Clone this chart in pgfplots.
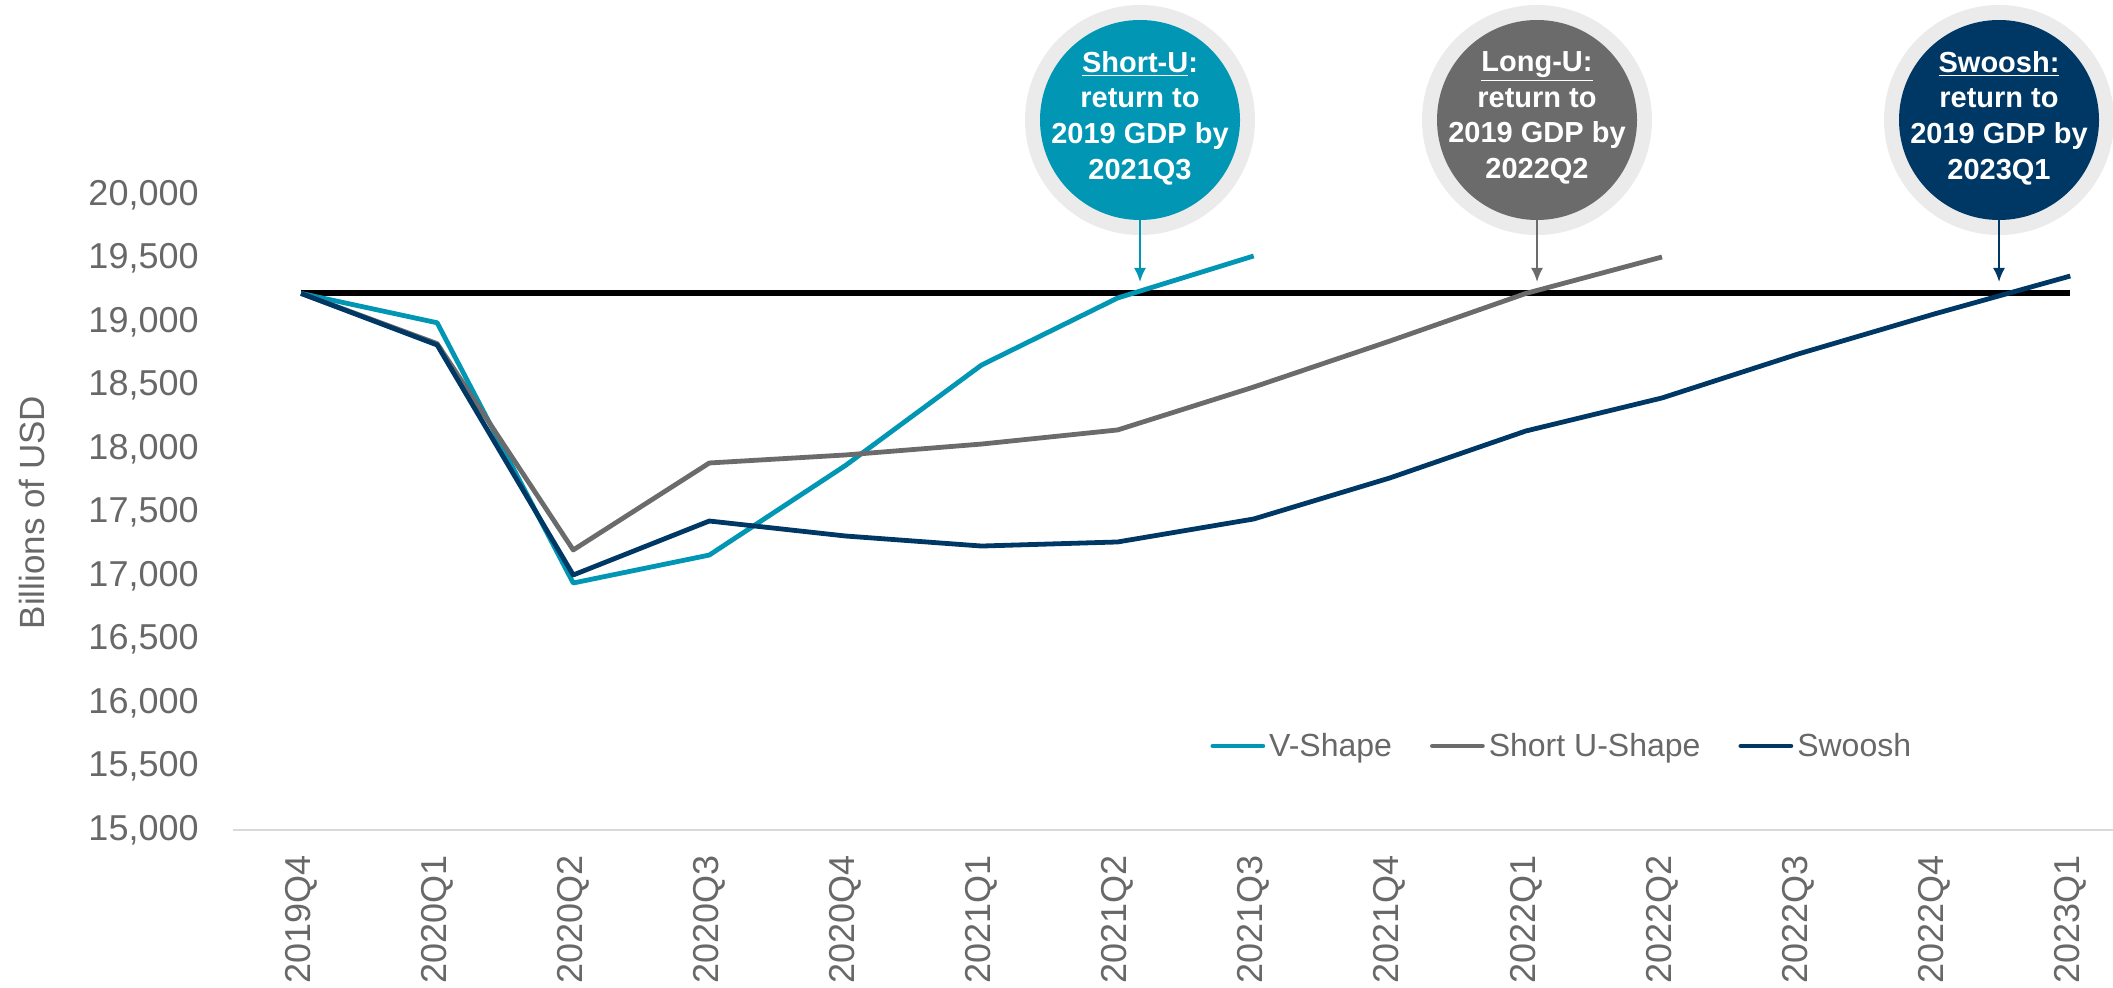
\documentclass[border=0pt]{standalone}
\usepackage{fontspec}
\setmainfont{Liberation Sans}
\usepackage{pgfplots}
\pgfplotsset{compat=1.18}
\usetikzlibrary{arrows.meta}
\definecolor{vteal}{RGB}{0,150,180}
\definecolor{ugray}{RGB}{107,107,107}
\definecolor{navy}{RGB}{0,56,101}
\definecolor{ring}{RGB}{235,235,235}
\definecolor{axisgray}{RGB}{217,217,217}
\definecolor{textgray}{RGB}{104,104,104}
\begin{document}
\begin{tikzpicture}
\useasboundingbox (0,0) rectangle (1056.5pt,493.5pt);
\begin{axis}[
  at={(116.5pt,78.5pt)}, anchor=south west,
  scale only axis, width=940pt, height=317.5pt,
  xmin=-0.5, xmax=13.314, ymin=15000, ymax=20000,
  axis x line*=bottom, axis y line*=left,
  x axis line style={draw=axisgray, line width=1pt},
  y axis line style={draw=none},
  major tick length=0pt,
  xtick={0,...,13},
  xticklabels={2019Q4,2020Q1,2020Q2,2020Q3,2020Q4,2021Q1,2021Q2,2021Q3,2021Q4,2022Q1,2022Q2,2022Q3,2022Q4,2023Q1},
  xticklabel style={rotate=90, anchor=east, inner sep=0pt, font=\fontsize{18}{21}\selectfont, text=textgray},
  xticklabel shift=12.5pt,
  ytick={15000,15500,...,20000},
  scaled y ticks=false,
  yticklabel style={inner sep=0pt, font=\fontsize{18}{21}\selectfont, text=textgray,
    /pgf/number format/fixed, /pgf/number format/1000 sep={,}, /pgf/number format/assume math mode=true},
  yticklabel shift=17pt,
  ylabel={Billions of USD},
  every axis y label/.style={at={(axis description cs:-0.1069,0.5)}, anchor=center, rotate=90, font=\fontsize{17.5}{20}\selectfont, text=textgray},
  legend columns=3,
  legend cell align=left,
  legend style={at={(axis description cs:0.5197,0.1323)}, anchor=west, draw=none, fill=none, inner sep=0pt,
    font=\fontsize{16}{19}\selectfont, text=textgray,
    nodes={inner sep=0pt},
    /tikz/every odd column/.append style={column sep=2pt},
    /tikz/every even column/.append style={column sep=19pt}},
  legend image code/.code={\draw[line width=2.4pt, line cap=round] (1pt,0pt) -- (26pt,0pt);},
  clip=false,
]
\addplot[black, line width=3pt, forget plot] coordinates {(0,19225) (13,19225)};
\addplot[vteal, line width=2.4pt, line join=round] coordinates {
(0,19225) (1,18994) (2,16945) (3,17165) (4,17870) (5,18661) (6,19189) (7,19520)};
\addlegendentry{V-Shape}
\addplot[ugray, line width=2.4pt, line join=round] coordinates {
(0,19225) (1,18830) (2,17205) (3,17890) (4,17953) (5,18039) (6,18150) (7,18488) (8,18850) (9,19225) (10,19512)};
\addlegendentry{Short U-Shape}
\addplot[navy, line width=2.4pt, line join=round] coordinates {
(0,19225) (1,18819) (2,17008) (3,17433) (4,17315) (5,17236) (6,17268) (7,17449) (8,17772) (9,18142) (10,18402) (11,18748) (12,19063) (13,19362)};
\addlegendentry{Swoosh}
\end{axis}
% annotation bubbles
\fill[ring] (570pt,433.5pt) circle (57.5pt);
\fill[vteal] (570pt,433.5pt) circle (50pt);
\node[text=white, align=center, font=\bfseries\fontsize{14.5}{17.8}\selectfont] at (570pt,434.5pt) {\underline{Short-U}:\\return to\\2019 GDP by\\2021Q3};
\draw[vteal, line width=1pt, -{Latex[length=7pt,width=6pt]}] (570pt,383.5pt) -- (570pt,352.5pt);
\fill[ring] (768.5pt,433.5pt) circle (57.5pt);
\fill[ugray] (768.5pt,433.5pt) circle (50pt);
\node[text=white, align=center, font=\bfseries\fontsize{14.5}{17.8}\selectfont] at (768.5pt,434.5pt) {\underline{Long-U:}\\return to\\2019 GDP by\\2022Q2};
\draw[ugray, line width=1pt, -{Latex[length=7pt,width=6pt]}] (768.5pt,383.5pt) -- (768.5pt,352.5pt);
\fill[ring] (999.5pt,433.5pt) circle (57.5pt);
\fill[navy] (999.5pt,433.5pt) circle (50pt);
\node[text=white, align=center, font=\bfseries\fontsize{14.5}{17.8}\selectfont] at (999.5pt,434.5pt) {\underline{Swoosh:}\\return to\\2019 GDP by\\2023Q1};
\draw[navy, line width=1pt, -{Latex[length=7pt,width=6pt]}] (999.5pt,383.5pt) -- (999.5pt,352.5pt);
\end{tikzpicture}
\end{document}
